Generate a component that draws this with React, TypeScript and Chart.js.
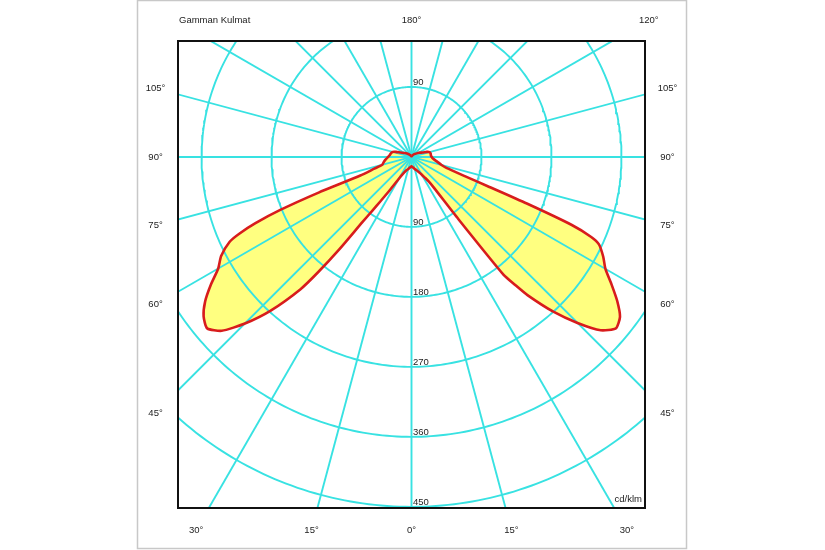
import React, { useEffect, useRef } from "react";
import { Chart, registerables } from "chart.js";

Chart.register(...registerables);

// Gamma angles (degrees from nadir) shared by both half planes
const GAMMA = [
  0, 5, 10, 15, 20, 25, 30, 33, 35, 36,
  37, 38, 39, 40, 42.5, 45, 47.5, 50, 52.5, 55,
  57.5, 60, 62.5, 65, 66, 67, 68, 69, 70, 72.5,
  75, 80, 85, 90, 95, 100, 105, 108, 112, 120,
  135, 150, 165, 180,
];
// C0 half plane (drawn to the right), cd/klm
const C0_VALUES = [
  12, 13, 14, 16, 18, 21, 26, 32, 38, 48,
  100, 192, 212, 232, 270, 302, 330, 343, 338, 323,
  305, 288, 278, 266, 253, 224, 160, 105, 76, 47,
  40, 33, 28, 26, 25, 25, 24, 21, 15, 11,
  5, 2, 1, 1,
];
// C180 half plane (drawn to the left), cd/klm
const C180_VALUES = [
  12, 13, 14, 16, 18, 22, 32, 50, 70, 85,
  105, 150, 190, 222, 268, 303, 331, 343, 337, 324,
  306, 287, 276, 258, 242, 218, 182, 128, 70, 50,
  39, 36, 33, 30, 28, 27, 25, 21, 15, 10,
  5, 2, 1, 1,
];

const RING_VALUES = [90, 180, 270, 360, 450];
const SPOKE_ANGLES = [0, 15, 30, 45, 60, 75, 90, 105, 120, 135, 150, 165];
const SIDE_TICKS = [105, 90, 75, 60, 45];
const BOTTOM_TICKS = [-30, -15, 0, 15, 30];
const TOP_TICKS = [180, 120];
const TITLE = "Gamman Kulmat";
const UNIT = "cd/klm";

const X_MIN = -300.3;
const X_MAX = 300.3;
const Y_MIN = -451.5;
const Y_MAX = 149.1;

const GRID_COLOR = "#38e2e2";
const FILL_COLOR = "#ffff80";
const LINE_COLOR = "#d81c1c";
const TEXT_COLOR = "#222";
const FONT = '9.5px "Liberation Sans", Arial, sans-serif';

const rad = (d: number) => (d * Math.PI) / 180;

function polar(gammaDeg: number, r: number, side: number) {
  return { x: side * r * Math.sin(rad(gammaDeg)), y: -r * Math.cos(rad(gammaDeg)) };
}

export default function App() {
  const ref = useRef<HTMLCanvasElement | null>(null);

  useEffect(() => {
    document.body.style.margin = "0";
    const canvas = ref.current;
    if (!canvas) return;

    const datasets: any[] = [];
    // spokes
    SPOKE_ANGLES.forEach((a) => {
      const R = 800;
      datasets.push({
        data: [polar(a, R, 1), polar(a + 180, R, 1)],
        showLine: true,
        borderColor: GRID_COLOR,
        borderWidth: 1.9,
        pointRadius: 0,
        fill: false,
        order: 1,
      });
    });
    // rings
    RING_VALUES.forEach((v) => {
      const pts = [];
      for (let d = 0; d <= 360; d += 1) pts.push(polar(d, v, 1));
      datasets.push({
        data: pts,
        showLine: true,
        borderColor: GRID_COLOR,
        borderWidth: 1.9,
        pointRadius: 0,
        fill: false,
        order: 1,
      });
    });
    // luminous intensity curve
    const outline: { x: number; y: number }[] = [];
    for (let i = GAMMA.length - 1; i >= 0; i--) outline.push(polar(GAMMA[i], C180_VALUES[i], -1));
    for (let i = 0; i < GAMMA.length; i++) outline.push(polar(GAMMA[i], C0_VALUES[i], 1));
    datasets.push({
      data: outline,
      showLine: true,
      borderColor: LINE_COLOR,
      backgroundColor: FILL_COLOR,
      borderWidth: 2.6,
      borderJoinStyle: "round",
      tension: 0.2,
      pointRadius: 0,
      fill: "shape",
      order: 0,
    });

    const labelPlugin = {
      id: "photometricLabels",
      afterDraw(chart: any) {
        const ctx = chart.ctx;
        const xs = chart.scales.x;
        const ys = chart.scales.y;
        const area = chart.chartArea;
        const px = (v: number) => xs.getPixelForValue(v);
        const py = (v: number) => ys.getPixelForValue(v);
        ctx.save();
        // outer frame
        ctx.strokeStyle = "#c8c8c8";
        ctx.lineWidth = 1.5;
        ctx.strokeRect(137.5, 0.5, 549, 548);
        // plot box
        ctx.strokeStyle = "#111";
        ctx.lineWidth = 2;
        ctx.strokeRect(area.left, area.top, area.right - area.left, area.bottom - area.top);

        ctx.fillStyle = TEXT_COLOR;
        ctx.font = FONT;
        ctx.textBaseline = "middle";
        // title
        ctx.textAlign = "left";
        ctx.fillText(TITLE, area.left + 1, py(176.2));
        // top angle labels
        ctx.textAlign = "center";
        const LT = 176.2;
        TOP_TICKS.forEach((t) => {
          const x = LT * Math.tan(rad(180 - t));
          ctx.fillText(t + "°", px(x), py(LT));
        });
        // side labels
        const LS = 329.2;
        SIDE_TICKS.forEach((t) => {
          const y = -LS / Math.tan(rad(t));
          ctx.fillText(t + "°", px(-LS), py(y));
          ctx.fillText(t + "°", px(LS), py(y));
        });
        // bottom labels
        const LB = 479.7;
        BOTTOM_TICKS.forEach((t) => {
          const x = LB * Math.tan(rad(t));
          ctx.fillText(Math.abs(t) + "°", px(x), py(-LB));
        });
        // ring labels
        ctx.textAlign = "left";
        ctx.textBaseline = "alphabetic";
        RING_VALUES.forEach((v) => {
          ctx.fillText(String(v), px(0) + 1.5, py(-v) - 1.5);
          if (v < Y_MAX) ctx.fillText(String(v), px(0) + 1.5, py(v) - 1.5);
        });
        // unit
        ctx.textAlign = "right";
        ctx.textBaseline = "middle";
        ctx.fillText(UNIT, area.right - 3, area.bottom - 9);
        ctx.restore();
      },
    };

    const chart = new Chart(canvas, {
      type: "scatter",
      data: { datasets },
      options: {
        responsive: false,
        animation: false,
        devicePixelRatio: 1,
        events: [],
        layout: { padding: { left: 178, right: 180, top: 41, bottom: 42 } },
        scales: {
          x: { type: "linear", min: X_MIN, max: X_MAX, display: false },
          y: { type: "linear", min: Y_MIN, max: Y_MAX, display: false },
        },
        plugins: {
          legend: { display: false },
          tooltip: { enabled: false },
          title: { display: false },
          filler: { drawTime: "beforeDatasetsDraw" },
        } as any,
      },
      plugins: [labelPlugin],
    } as any);

    return () => chart.destroy();
  }, []);

  return <canvas ref={ref} width={825} height={550} style={{ display: "block" }} />;
}
